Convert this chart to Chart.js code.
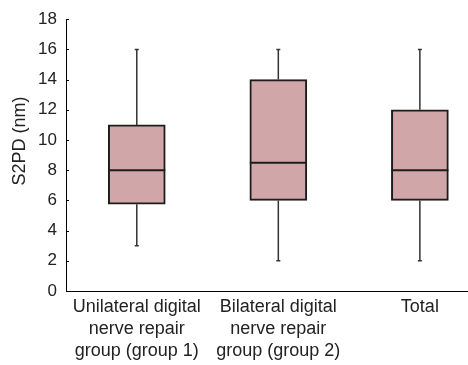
<!DOCTYPE html>
<html>
<head>
<meta charset="utf-8">
<script src="https://cdn.jsdelivr.net/npm/chart.js@4"></script>
<style>
  html, body { margin: 0; padding: 0; background: #fff; }
  #wrap { width: 468px; height: 365px; }
</style>
</head>
<body>
<div id="wrap"><canvas id="boxchart"></canvas></div>
<script>
// box plot values
var groups = [
    ['Unilateral digital', 'nerve repair', 'group (group 1)'],
    ['Bilateral digital', 'nerve repair', 'group (group 2)'],
    ['Total'],
];
var mins    = [3, 2, 2];
var q1s     = [5.75, 6, 6];
var medians = [8, 8.5, 8];
var q3s     = [11, 14, 12];
var maxs    = [16, 16, 16];
var yTicks  = [0, 2, 4, 6, 8, 10, 12, 14, 16, 18];

var boxFill = 'rgb(209,166,168)';
var lineCol = '#1c1c1c';
var fontFam = "'Liberation Sans', Arial, Helvetica, sans-serif";

// whiskers, caps, medians, inward y ticks and the y title
const boxExtras = {
    id: 'boxExtras',
    afterDatasetsDraw(chart) {
        const ctx = chart.ctx;
        const xs = chart.scales.x;
        const ys = chart.scales.y;
        const half = 28.5;
        ctx.save();
        groups.forEach(function (g, i) {
            var cx = xs.getPixelForValue(i + 1);
            // whiskers
            ctx.strokeStyle = '#333';
            ctx.lineWidth = 1.5;
            ctx.beginPath();
            ctx.moveTo(cx, ys.getPixelForValue(maxs[i]));
            ctx.lineTo(cx, ys.getPixelForValue(q3s[i]));
            ctx.moveTo(cx, ys.getPixelForValue(q1s[i]));
            ctx.lineTo(cx, ys.getPixelForValue(mins[i]));
            // caps
            ctx.moveTo(cx - 2, ys.getPixelForValue(maxs[i]));
            ctx.lineTo(cx + 2, ys.getPixelForValue(maxs[i]));
            ctx.moveTo(cx - 2, ys.getPixelForValue(mins[i]));
            ctx.lineTo(cx + 2, ys.getPixelForValue(mins[i]));
            ctx.stroke();
            // median
            ctx.strokeStyle = lineCol;
            ctx.lineWidth = 2;
            ctx.beginPath();
            ctx.moveTo(cx - half, ys.getPixelForValue(medians[i]));
            ctx.lineTo(cx + half, ys.getPixelForValue(medians[i]));
            ctx.stroke();
        });
        // inward tick marks on the y axis
        ctx.strokeStyle = '#000';
        ctx.lineWidth = 1;
        ctx.beginPath();
        yTicks.forEach(function (v) {
            var py = Math.round(ys.getPixelForValue(v)) + 0.5;
            ctx.moveTo(xs.left, py);
            ctx.lineTo(xs.left + 3, py);
        });
        ctx.stroke();
        // y axis title
        ctx.fillStyle = '#222';
        ctx.font = '18px ' + fontFam;
        ctx.textAlign = 'center';
        ctx.textBaseline = 'middle';
        ctx.translate(20, 141);
        ctx.rotate(-Math.PI / 2);
        ctx.fillText('S2PD (nm)', 0, 0);
        ctx.restore();
    }
};

new Chart(document.getElementById('boxchart'), {
    type: 'bar',
    data: {
        datasets: [
            {
                label: 'S2PD',
                data: groups.map(function (g, i) { return { x: i + 1, y: [q1s[i], q3s[i]] }; }),
                backgroundColor: boxFill,
                borderColor: lineCol,
                borderWidth: 2,
                borderSkipped: false,
                barThickness: 57,
            },
        ],
    },
    plugins: [boxExtras],
    options: {
        responsive: true,
        maintainAspectRatio: false,
        animation: false,
        layout: { padding: { top: 16, left: 0, right: 0, bottom: 0 } },
        plugins: {
            legend: { display: false },
            tooltip: { enabled: false },
        },
        scales: {
            x: {
                type: 'linear',
                min: 0.5,
                max: 3.34,
                offset: false,
                grid: { display: false, drawTicks: false },
                border: { display: true, color: '#000', width: 1 },
                afterBuildTicks: function (scale) {
                    scale.ticks = groups.map(function (g, i) { return { value: i + 1 }; });
                },
                afterFit: function (scale) { scale.height = 74; },
                ticks: {
                    autoSkip: false,
                    maxRotation: 0,
                    padding: 5,
                    color: '#222',
                    font: { family: fontFam, size: 18, lineHeight: 1.22 },
                    callback: function (value) { return groups[value - 1] || ''; },
                },
            },
            y: {
                min: 0,
                max: 18,
                grid: { display: false, drawTicks: false },
                border: { display: true, color: '#000', width: 1 },
                afterBuildTicks: function (scale) {
                    scale.ticks = yTicks.map(function (v) { return { value: v }; });
                },
                afterFit: function (scale) { scale.width = 66; },
                ticks: {
                    padding: 9,
                    color: '#222',
                    font: { family: fontFam, size: 17 },
                },
            },
        },
    },
});
</script>
</body>
</html>
